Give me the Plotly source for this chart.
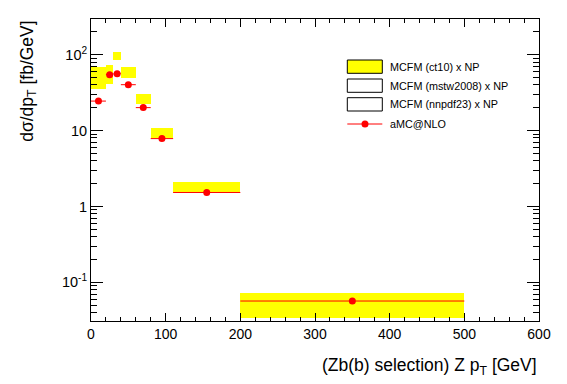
import plotly.graph_objects as go

# ---- data ----
bin_edges = [0, 20, 30, 40, 60, 80, 110, 200, 500]
amc_values = [24.5, 54.6, 56.2, 40.3, 20.1, 7.85, 1.53, 0.0568]
ct10_low = [35.2, 41.5, 85.9, 49.8, 22.2, 8.09, 1.51, 0.0336]
ct10_high = [68.7, 72.2, 110.0, 68.7, 30.1, 10.9, 2.11, 0.0716]
legend_names = ["MCFM (ct10) x NP", "MCFM (mstw2008) x NP", "MCFM (nnpdf23) x NP", "aMC@NLO"]
y_tickvals = [0.1, 1, 10, 100]
y_ticktext = ["10<sup>-1</sup>", "1", "10", "10<sup>2</sup>"]

centers = [(a + b) / 2 for a, b in zip(bin_edges[:-1], bin_edges[1:])]
widths = [b - a for a, b in zip(bin_edges[:-1], bin_edges[1:])]
halfw = [w / 2 for w in widths]

FONT = "Liberation Sans, Arial, Helvetica, sans-serif"

fig = go.Figure()
fig.add_trace(go.Bar(
    x=centers, width=widths, base=ct10_low,
    y=[h - l for h, l in zip(ct10_high, ct10_low)],
    marker=dict(color="#ffff00", line=dict(width=0)),
    name=legend_names[0], showlegend=False,
))
fig.add_trace(go.Scatter(
    x=centers, y=amc_values, mode="markers",
    marker=dict(color="#ff0000", size=7),
    error_x=dict(type="data", array=halfw, color="#ff0000", thickness=1, width=0),
    name=legend_names[3], showlegend=False,
))

minor_vals = [k * 10 ** e for e in range(-2, 3) for k in range(2, 10)]

# page body has an 8px margin, so the figure is shrunk by that amount
fig.update_layout(
    width=559, height=376,
    margin=dict(l=83, r=28, t=11, b=63, autoexpand=False),
    paper_bgcolor="white", plot_bgcolor="white",
    barmode="overlay", bargap=0,
    font=dict(family=FONT, size=14, color="black"),
    xaxis=dict(
        range=[0, 600], tickmode="linear", tick0=0, dtick=100,
        ticks="inside", ticklen=8, tickwidth=1, tickcolor="black",
        showline=True, linecolor="black", linewidth=1, mirror="allticks",
        showgrid=False, zeroline=False,
        tickfont=dict(size=14),
        minor=dict(dtick=20, ticks="inside", ticklen=4, tickcolor="black", showgrid=False),
    ),
    yaxis=dict(
        type="log", range=[-1.509, 2.471],
        tickmode="array", tickvals=y_tickvals, ticktext=y_ticktext,
        ticks="inside", ticklen=12, tickwidth=1, tickcolor="black",
        showline=True, linecolor="black", linewidth=1, mirror="allticks",
        showgrid=False, zeroline=False,
        tickfont=dict(size=14.5),
        minor=dict(tickmode="array", tickvals=minor_vals, ticks="inside", ticklen=6,
                   tickcolor="black", showgrid=False),
    ),
    showlegend=False,
)

# axis titles
fig.add_annotation(
    text="(Zb(b) selection) Z p<sub>T</sub> [GeV]", xref="paper", yref="paper",
    x=1.0, y=-0.105, xanchor="right", yanchor="top", showarrow=False,
    font=dict(size=17.5, family=FONT),
)
fig.add_annotation(
    text="dσ/dp<sub>T</sub> [fb/GeV]", xref="paper", yref="paper",
    x=-0.14, y=1.0, xanchor="center", yanchor="top", textangle=-90, showarrow=False,
    font=dict(size=17.5, family=FONT),
)

# legend (drawn manually, ROOT style)
def xp(px):
    return (px - 91) / 448

def yp(py):
    return (321 - py) / 302

box_rows = [(60, 73.3, "#ffff00"), (79, 92.3, "white"), (97.7, 111, "white")]
for (top, bot, col), name in zip(box_rows, legend_names[:3]):
    fig.add_shape(type="rect", xref="paper", yref="paper",
                  x0=xp(347.3), x1=xp(382.3), y0=yp(bot), y1=yp(top),
                  fillcolor=col, line=dict(color="black", width=1))
    fig.add_annotation(text=name, xref="paper", yref="paper",
                       x=xp(388), y=yp((top + bot) / 2), xanchor="left", yanchor="middle",
                       showarrow=False, font=dict(size=10.8, family=FONT))
fig.add_shape(type="line", xref="paper", yref="paper",
              x0=xp(347.3), x1=xp(382.3), y0=yp(124), y1=yp(124),
              line=dict(color="#ff0000", width=1))
fig.add_shape(type="circle", xref="paper", yref="paper",
              x0=xp(361.5), x1=xp(368.5), y0=yp(127.5), y1=yp(120.5),
              fillcolor="#ff0000", line=dict(color="#ff0000", width=0))
fig.add_annotation(text=legend_names[3], xref="paper", yref="paper",
                   x=xp(388), y=yp(124), xanchor="left", yanchor="middle",
                   showarrow=False, font=dict(size=10.8, family=FONT))

fig.write_html("out.html")
